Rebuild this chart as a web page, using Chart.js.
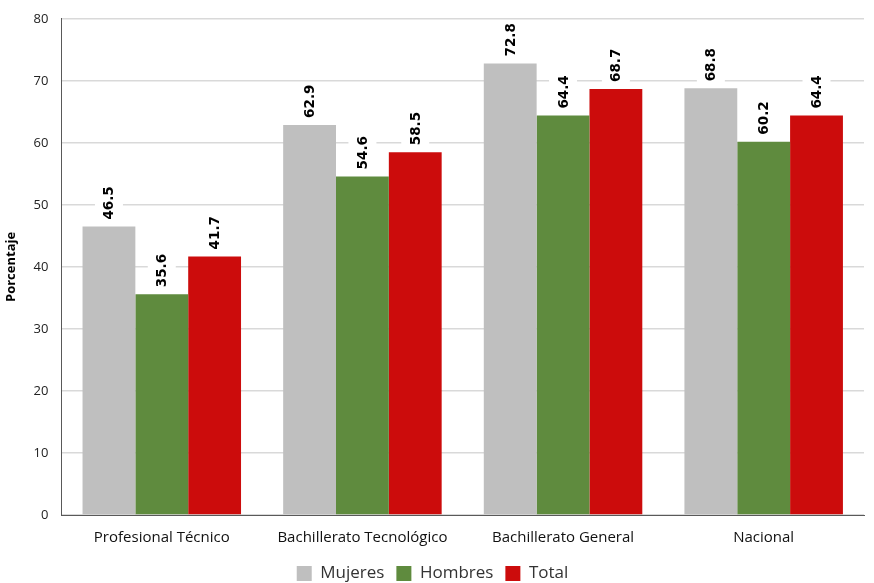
<!DOCTYPE html>
<html>
<head>
<meta charset="utf-8">
<script src="https://cdn.jsdelivr.net/npm/chart.js@4/dist/chart.umd.min.js"></script>
<style>
  html, body { margin: 0; padding: 0; background: #fff; }
  #wrap { width: 874px; height: 583px; }
</style>
</head>
<body>
<div id="wrap"><canvas id="chart"></canvas></div>
<script>
// --- datos ---
const categorias = ['Profesional Técnico', 'Bachillerato Tecnológico', 'Bachillerato General', 'Nacional'];
const mujeres = [46.5, 62.9, 72.8, 68.8];
const hombres = [35.6, 54.6, 64.4, 60.2];
const total = [41.7, 58.5, 68.7, 64.4];
const yTicks = [0, 10, 20, 30, 40, 50, 60, 70, 80];

// etiquetas verticales encima de cada barra, con fondo blanco
const valueLabels = {
  id: 'valueLabels',
  afterDatasetsDraw(chart) {
    const ctx = chart.ctx;
    ctx.save();
    ctx.font = 'bold 13.5px "DejaVu Sans"';
    chart.data.datasets.forEach((ds, i) => {
      const meta = chart.getDatasetMeta(i);
      meta.data.forEach((bar, j) => {
        const txt = ds.data[j].toFixed(1);
        const w = ctx.measureText(txt).width;
        ctx.save();
        ctx.translate(bar.x, bar.y - 7);
        ctx.rotate(-Math.PI / 2);
        ctx.fillStyle = '#fff';
        ctx.fillRect(-2, -14, w + 4, 28);
        ctx.fillStyle = '#000';
        ctx.textAlign = 'left';
        ctx.textBaseline = 'middle';
        ctx.fillText(txt, 0, 1);
        ctx.restore();
      });
    });
    ctx.restore();
  }
};

new Chart(document.getElementById('chart'), {
  type: 'bar',
  data: {
    labels: categorias,
    datasets: [
      { label: 'Mujeres', data: mujeres, backgroundColor: '#bfbfbf' },
      { label: 'Hombres', data: hombres, backgroundColor: '#5f8b3e' },
      { label: 'Total', data: total, backgroundColor: '#cc0c0c' }
    ]
  },
  options: {
    responsive: true,
    maintainAspectRatio: false,
    animation: false,
    layout: { padding: { top: 0, right: 10, left: 1, bottom: -9 } },
    datasets: { bar: { categoryPercentage: 0.79, barPercentage: 1.0, borderWidth: 0 } },
    plugins: {
      legend: {
        position: 'bottom',
        labels: {
          boxWidth: 15, boxHeight: 15, padding: 12,
          color: '#333', font: { family: '"Open Sans"', size: 17 }
        }
      },
      tooltip: { enabled: false }
    },
    scales: {
      x: {
        grid: { display: false, drawTicks: false },
        border: { color: '#595959', width: 1 },
        ticks: { color: '#111', padding: 14, font: { family: '"Open Sans"', size: 15 } },
        afterFit: (s) => { s.height -= 8; }
      },
      y: {
        min: 0, max: 80,
        afterBuildTicks: (axis) => { axis.ticks = yTicks.map(v => ({ value: v })); },
        grid: { color: '#d9d9d9', lineWidth: 1.5, drawTicks: false },
        border: { color: '#595959', width: 1 },
        ticks: { color: '#222', padding: 13, font: { family: '"Open Sans"', size: 13, lineHeight: 0.9 } },
        title: {
          display: true, text: 'Porcentaje', color: '#000', padding: 2,
          font: { family: '"Open Sans"', size: 13, weight: 'bold' }
        }
      }
    }
  },
  plugins: [valueLabels]
});
</script>
</body>
</html>
